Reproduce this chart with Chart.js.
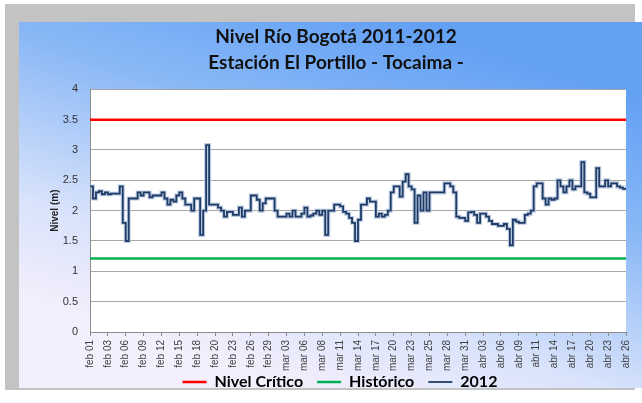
<!DOCTYPE html>
<html>
<head>
<meta charset="utf-8">
<script src="https://cdn.jsdelivr.net/npm/chart.js@4.4.1/dist/chart.umd.min.js"></script>
<style>
  html, body { margin: 0; padding: 0; background: #fff; }
  #wrap { width: 642px; height: 403px; }
</style>
</head>
<body>
<div id="wrap"><canvas id="nivelChart" width="642" height="403"></canvas></div>
<script>
// Etiquetas del eje x (una cada 6 lecturas)
const tickLabels = ['feb 01', 'feb 03', 'feb 06', 'feb 09', 'feb 12', 'feb 15', 'feb 18', 'feb 20',
    'feb 23', 'feb 26', 'feb 29', 'mar 03', 'mar 06', 'mar 08', 'mar 11', 'mar 14', 'mar 17',
    'mar 20', 'mar 23', 'mar 25', 'mar 28', 'mar 31', 'abr 03', 'abr 06', 'abr 09', 'abr 11',
    'abr 14', 'abr 17', 'abr 20', 'abr 23', 'abr 26'];
const readingsPerLabel = 6;

// Niveles de referencia (m)
const nivelCritico = 3.5;
const historico = 1.21;

// Lecturas 2012 (m)
const nivel2012 = [
    2.40, 2.20, 2.30, 2.32, 2.27, 2.30, 2.27, 2.28, 2.28, 2.28,
    2.40, 1.80, 1.50, 2.20, 2.20, 2.20, 2.30, 2.25, 2.30, 2.30,
    2.22, 2.25, 2.25, 2.25, 2.30, 2.20, 2.10, 2.18, 2.15, 2.25,
    2.30, 2.20, 2.10, 2.10, 2.00, 2.20, 2.20, 1.60, 2.00, 3.08,
    2.10, 2.10, 2.10, 2.05, 2.00, 1.90, 1.98, 1.98, 1.93, 1.93,
    2.05, 1.90, 2.00, 2.00, 2.25, 2.25, 2.18, 2.00, 2.12, 2.20,
    2.20, 2.20, 2.00, 1.90, 1.90, 1.90, 1.95, 1.90, 2.00, 1.90,
    1.90, 1.95, 2.05, 1.90, 1.92, 1.95, 2.00, 1.93, 2.00, 1.60,
    2.00, 2.00, 2.10, 2.10, 2.07, 1.98, 1.95, 1.88, 1.80, 1.50,
    1.85, 2.10, 2.10, 2.20, 2.15, 2.15, 1.90, 1.95, 1.90, 1.93,
    2.00, 2.30, 2.40, 2.40, 2.23, 2.48, 2.60, 2.40, 2.35, 1.80,
    2.25, 2.00, 2.30, 2.00, 2.30, 2.30, 2.30, 2.30, 2.30, 2.45,
    2.45, 2.40, 2.30, 1.90, 1.88, 1.88, 1.83, 1.97, 1.98, 1.93,
    1.80, 1.95, 1.95, 1.90, 1.83, 1.78, 1.78, 1.75, 1.75, 1.78,
    1.70, 1.43, 1.85, 1.82, 1.80, 1.80, 1.93, 1.95, 2.00, 2.40,
    2.45, 2.45, 2.20, 2.10, 2.20, 2.18, 2.20, 2.50, 2.40, 2.30,
    2.40, 2.50, 2.35, 2.40, 2.40, 2.80, 2.30, 2.28, 2.22, 2.22,
    2.70, 2.40, 2.40, 2.50, 2.40, 2.45, 2.45, 2.40, 2.38, 2.36,
    2.35
];

const lastX = (tickLabels.length - 1) * readingsPerLabel;
const serie2012 = nivel2012.map((v, i) => ({ x: i, y: v }));

// Fondo con degradado como en el gráfico original
const fondoPlugin = {
    id: 'fondo',
    afterLayout(chart) {
        // acercar la leyenda a las etiquetas del eje x
        chart.legend.top -= 14;
        chart.legend.bottom -= 14;
        chart.legend.left += 4;
        chart.legend.right += 4;
    },
    beforeDraw(chart) {
        const ctx = chart.ctx;
        const area = chart.chartArea;
        ctx.save();
        ctx.fillStyle = '#ffffff';
        ctx.fillRect(0, 0, chart.width, chart.height);
        ctx.fillStyle = '#c3c3c3';
        ctx.fillRect(5, 4, 630, 386);
        const grad = ctx.createLinearGradient(420, 22, 300, 392);
        grad.addColorStop(0, '#62a0f4');
        grad.addColorStop(0.35, '#8ab8f6');
        grad.addColorStop(0.75, '#d9e3fb');
        grad.addColorStop(1, '#f4effc');
        ctx.fillStyle = grad;
        ctx.fillRect(19, 22, 623, 366);
        ctx.fillStyle = '#ffffff';
        ctx.fillRect(area.left, area.top, area.right - area.left, area.bottom - area.top);
        ctx.restore();
    }
};

const ctx = document.getElementById('nivelChart').getContext('2d');
new Chart(ctx, {
    type: 'line',
    data: {
        datasets: [{
            label: 'Nivel Crítico',
            data: [{ x: 0, y: nivelCritico }, { x: lastX, y: nivelCritico }],
            borderColor: '#ff0000',
            backgroundColor: '#ff0000',
            borderWidth: 2.5,
            pointRadius: 0
        }, {
            label: 'Histórico',
            data: [{ x: 0, y: historico }, { x: lastX, y: historico }],
            borderColor: '#00b050',
            backgroundColor: '#00b050',
            borderWidth: 2.5,
            pointRadius: 0
        }, {
            label: '2012',
            data: serie2012,
            borderColor: '#1f3a64',
            backgroundColor: '#1f3a64',
            borderWidth: 1.8,
            stepped: true,
            pointRadius: 0
        }, {
            label: 'halo',
            data: serie2012,
            borderColor: 'rgba(170, 190, 220, 0.8)',
            borderWidth: 4,
            stepped: true,
            pointRadius: 0
        }]
    },
    options: {
        responsive: false,
        animation: false,
        layout: {
            padding: { left: 44, right: 14, top: 20, bottom: -11 }
        },
        scales: {
            x: {
                type: 'linear',
                min: 0,
                max: lastX,
                afterFit(scale) { scale.height = 42; },
                ticks: {
                    stepSize: readingsPerLabel,
                    autoSkip: false,
                    minRotation: 90,
                    maxRotation: 90,
                    padding: 4,
                    color: '#404040',
                    font: { family: 'Liberation Sans', size: 10 },
                    callback: (value) => tickLabels[Math.round(value / readingsPerLabel)]
                },
                grid: {
                    drawOnChartArea: false,
                    tickLength: 4,
                    color: '#8c8c8c'
                },
                border: { color: '#8c8c8c' }
            },
            y: {
                min: 0,
                max: 4,
                afterFit(scale) { scale.width = 46; },
                ticks: {
                    stepSize: 0.5,
                    padding: 12,
                    color: '#333333',
                    font: { family: 'Liberation Sans', size: 11 },
                    callback: (value) => String(value)
                },
                grid: {
                    color: '#a6a6a6',
                    drawTicks: false
                },
                border: { color: '#8c8c8c' },
                title: {
                    display: true,
                    text: 'Nivel (m)',
                    color: '#222222',
                    padding: { top: 5, bottom: 0 },
                    font: { family: 'Liberation Sans', size: 10, weight: 'bold' }
                }
            }
        },
        plugins: {
            title: {
                display: true,
                text: ['Nivel Río Bogotá 2011-2012', 'Estación El Portillo - Tocaima -'],
                color: '#111111',
                font: { family: 'Lato', size: 19, weight: 'bold', lineHeight: 1.35 },
                padding: { top: 4, bottom: 14 }
            },
            legend: {
                position: 'bottom',
                labels: {
                    usePointStyle: true,
                    pointStyle: 'line',
                    pointStyleWidth: 24,
                    padding: 14,
                    color: '#000000',
                    font: { family: 'Lato', size: 16, weight: 'bold' },
                    filter: (item) => item.text !== 'halo'
                }
            },
            tooltip: { enabled: false }
        }
    },
    plugins: [fondoPlugin]
});
</script>
</body>
</html>
